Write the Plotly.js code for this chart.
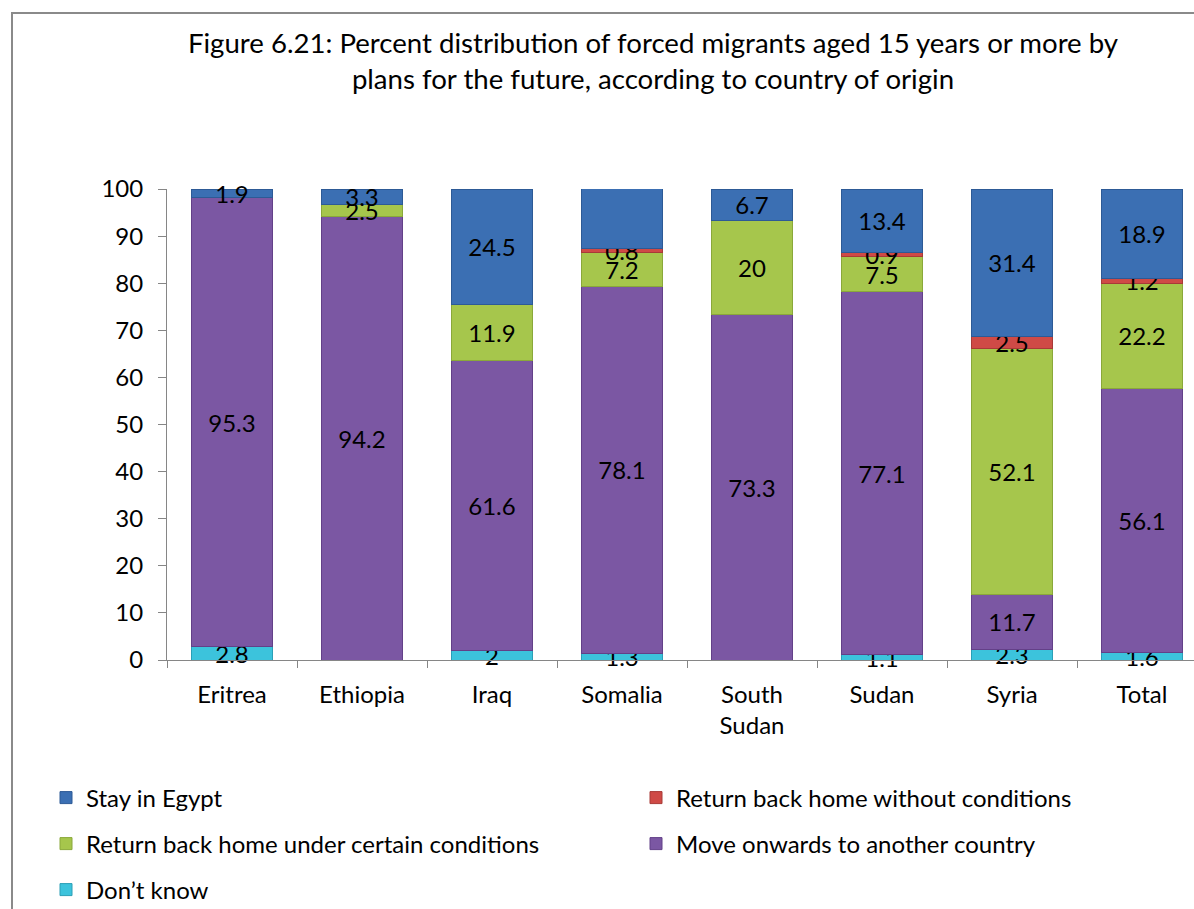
<!DOCTYPE html>
<html>
<head>
<meta charset="utf-8">
<script src="https://cdn.plot.ly/plotly-3.0.1.min.js"></script>
<style>
  html, body { margin: 0; padding: 0; background: #ffffff; width: 1194px; height: 909px; overflow: hidden; position: relative; }
  #chart { position: absolute; left: 0; top: 0; }
  #frame { position: absolute; left: 11px; top: 12px; width: 1300px; height: 1000px; border-left: 2px solid #8a8a8a; border-top: 2px solid #8a8a8a; pointer-events: none; }
</style>
</head>
<body>
<div id="chart"></div>
<div id="frame"></div>
<script>
const categories = ['Eritrea', 'Ethiopia', 'Iraq', 'Somalia', 'South<br>Sudan', 'Sudan', 'Syria', 'Total'];
const dontKnow = [2.8, null, 2, 1.3, null, 1.1, 2.3, 1.6];
const moveOnwards = [95.3, 94.2, 61.6, 78.1, 73.3, 77.1, 11.7, 56.1];
const returnConditions = [null, 2.5, 11.9, 7.2, 20, 7.5, 52.1, 22.2];
const returnNoConditions = [null, null, null, 0.8, null, 0.9, 2.5, 1.2];
const stayEgypt = [1.9, 3.3, 24.5, 12.7, 6.7, 13.4, 31.4, 18.9];

const seriesNames = ['Don\u2019t know', 'Move onwards to another country', 'Return back home under certain conditions', 'Return back home without conditions', 'Stay in Egypt'];
const seriesValues = [dontKnow, moveOnwards, returnConditions, returnNoConditions, stayEgypt];
const seriesColors = ['#3cc3dc', '#7b57a3', '#a6c64c', '#cf4a46', '#3b6fb3'];
const seriesLines = ['#2a9fb6', '#634088', '#8aa83a', '#a83a37', '#2d5a96'];
const seriesLegends = ['legend5', 'legend4', 'legend3', 'legend2', 'legend'];

const FONT = 'Lato, "Open Sans", sans-serif';

const traces = seriesNames.map((name, i) => ({
  type: 'bar',
  name: name,
  x: categories,
  y: seriesValues[i],
  width: 0.62,
  marker: { color: seriesColors[i], line: { color: seriesLines[i], width: 1 } },
  texttemplate: '%{y}',
  textposition: 'inside',
  insidetextanchor: 'middle',
  constraintext: 'none',
  textangle: 0,
  textfont: { family: FONT, size: 24, color: '#000000' },
  cliponaxis: false,
  legend: seriesLegends[i],
  hoverinfo: 'skip'
}));

const W = 1260, H = 930;
function lg(xpx, ypx) {
  return {
    xref: 'container', yref: 'container',
    x: xpx / W, y: 1 - ypx / H,
    xanchor: 'left', yanchor: 'middle',
    orientation: 'h',
    bgcolor: 'rgba(0,0,0,0)',
    font: { family: FONT, size: 24, color: '#000000' }
  };
}

const layout = {
  width: W, height: H,
  margin: { l: 167, r: 53, t: 189, b: 270 },
  paper_bgcolor: '#ffffff',
  plot_bgcolor: '#ffffff',
  barmode: 'stack',
  font: { family: FONT, size: 24, color: '#000000' },
  title: {
    text: 'Figure 6.21: Percent distribution of forced migrants aged 15 years or more by<br>plans for the future, according to country of origin',
    font: { family: FONT, size: 27.6, color: '#000000' },
    xref: 'container', yref: 'container',
    x: 653 / W, xanchor: 'center',
    y: 1 - 53 / H, yanchor: 'top'
  },
  xaxis: {
    type: 'category',
    showline: true, linecolor: '#868686', linewidth: 1,
    ticks: 'outside', tickson: 'boundaries', ticklen: 7, tickcolor: '#868686',
    showgrid: false, zeroline: false,
    tickfont: { family: FONT, size: 24, color: '#000000' },
    ticklabelstandoff: 13
  },
  yaxis: {
    range: [0, 100], dtick: 10,
    showline: true, linecolor: '#868686', linewidth: 1,
    ticks: 'outside', ticklen: 8, tickcolor: '#868686',
    showgrid: false, zeroline: false,
    tickfont: { family: FONT, size: 24, color: '#000000' },
    ticklabelstandoff: 10
  },
  showlegend: true,
  legend: lg(46, 798),
  legend2: lg(636, 798),
  legend3: lg(46, 844),
  legend4: lg(636, 844),
  legend5: lg(46, 890)
};

Plotly.newPlot('chart', traces, layout, { displayModeBar: false, staticPlot: true });
</script>
</body>
</html>
